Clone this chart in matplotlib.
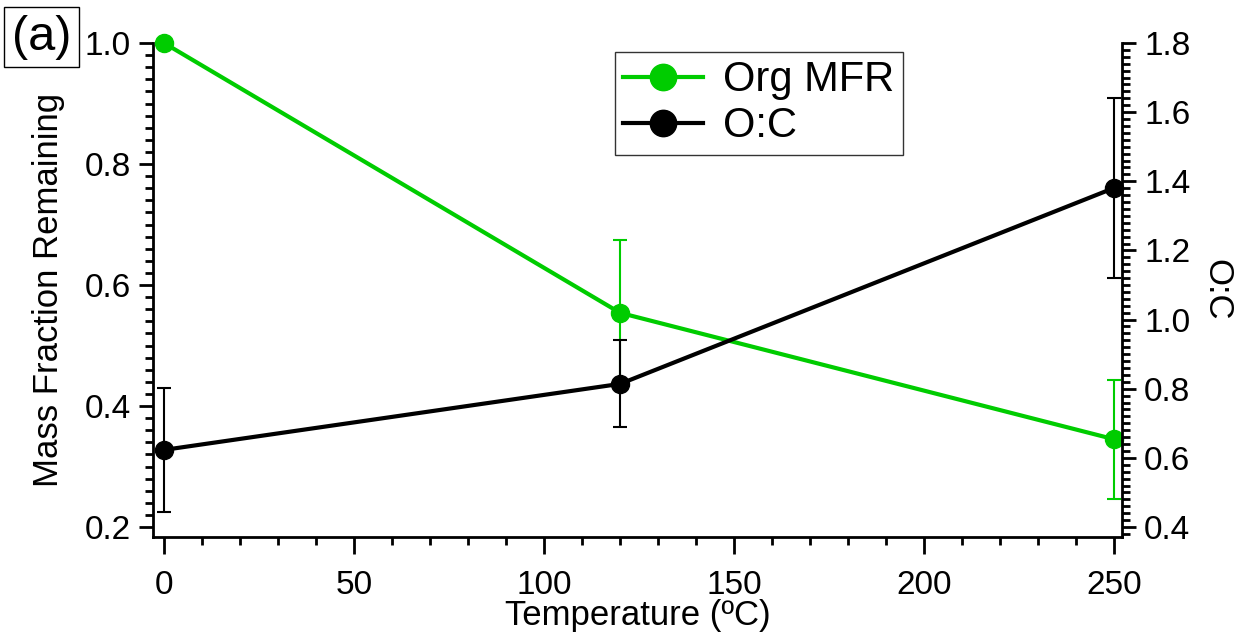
import matplotlib
matplotlib.use("Agg")
import matplotlib.pyplot as plt
from matplotlib.ticker import MultipleLocator

plt.rcParams['font.family'] = ['Liberation Sans', 'DejaVu Sans']

# data
temps = [0, 120, 250]
org_mfr = [1.0, 0.554, 0.345]
org_mfr_err = [0.0, 0.12, 0.098]
o_to_c = [0.623, 0.814, 1.381]
o_to_c_err = [0.18, 0.126, 0.26]

green = '#00cc00'

fig = plt.figure(figsize=(12.6, 6.41), dpi=100)
ax = fig.add_axes([0.1214, 0.1622, 0.769, 0.7707])
ax2 = ax.twinx()

# left axis: mass fraction remaining
mfr = ax.errorbar(temps, org_mfr, yerr=org_mfr_err, color=green, lw=3,
                  marker='o', ms=13, ecolor=green, elinewidth=1.5, capsize=5,
                  capthick=1.5, zorder=3)
# right axis: O:C
oc = ax2.errorbar(temps, o_to_c, yerr=o_to_c_err, color='black', lw=3,
                  marker='o', ms=13, ecolor='black', elinewidth=1.5,
                  capsize=5, capthick=1.5, zorder=3)
mfr[0].set_clip_on(False)
oc[0].set_clip_on(False)

ax.set_xlim(-2.9, 252)
ax.set_ylim(0.1835, 1.0)
ax2.set_ylim(0.371, 1.8)

for a in (ax, ax2):
    a.spines['top'].set_visible(False)
    for s in a.spines.values():
        s.set_linewidth(2)
ax.spines['right'].set_visible(False)
ax2.spines['left'].set_visible(False)
ax2.spines['bottom'].set_visible(False)

ax.xaxis.set_major_locator(MultipleLocator(50))
ax.xaxis.set_minor_locator(MultipleLocator(10))
ax.yaxis.set_major_locator(MultipleLocator(0.2))
ax.yaxis.set_minor_locator(MultipleLocator(0.02))
ax2.yaxis.set_major_locator(MultipleLocator(0.2))
ax2.yaxis.set_minor_locator(MultipleLocator(0.02))

ax.tick_params(axis='both', which='major', direction='out', length=10,
               width=2, labelsize=24, pad=6)
ax.tick_params(axis='x', which='major', length=12, pad=12)
ax.tick_params(axis='both', which='minor', direction='out', length=6, width=2)
ax2.tick_params(axis='y', which='major', direction='out', length=10,
                width=2, labelsize=24, pad=6)
ax2.tick_params(axis='y', which='minor', direction='out', length=6, width=2)
ax.yaxis.set_major_formatter(plt.FormatStrFormatter('%.1f'))
ax2.yaxis.set_major_formatter(plt.FormatStrFormatter('%.1f'))

ax.set_xlabel('Temperature (ºC)', fontsize=25, labelpad=-2)
ax.set_ylabel('Mass Fraction Remaining', fontsize=25, labelpad=14)
ax2.set_ylabel('O:C', fontsize=25, rotation=-90, labelpad=31)

# legend built from proxy lines so markers are large
h1, = ax.plot([], [], color=green, lw=3, marker='o', ms=19)
h2, = ax.plot([], [], color='black', lw=3, marker='o', ms=19)
leg = ax.legend([h1, h2], ['Org MFR', 'O:C'], loc='upper left',
                bbox_to_anchor=(0.477, 0.982), fontsize=30, frameon=True,
                fancybox=False, edgecolor='black', handlelength=1.9,
                borderpad=0.2, labelspacing=0.15, handletextpad=0.5,
                borderaxespad=0)
leg.get_frame().set_linewidth(1)

fig.text(0.0095, 0.942, '(a)', fontsize=35, ha='left', va='center',
         bbox=dict(boxstyle='square,pad=0.16', fc='white', ec='black', lw=1))

fig.savefig('out.png', dpi=100)
